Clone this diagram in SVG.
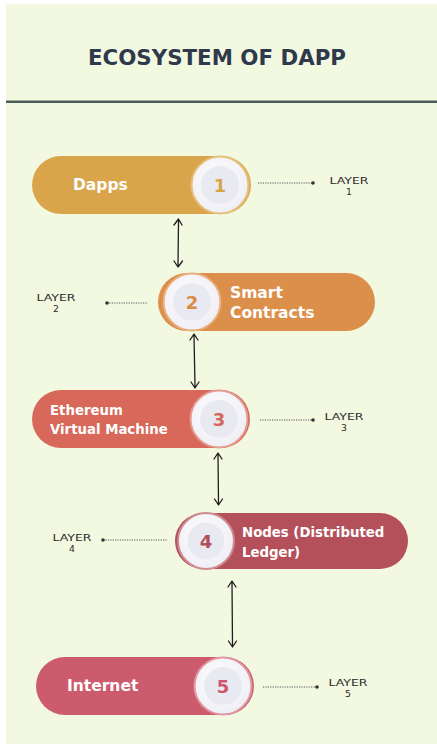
<svg xmlns="http://www.w3.org/2000/svg" width="437" height="744" viewBox="0 0 437 744">
<defs>
<style>
.t{font-family:"DejaVu Sans","Liberation Sans",sans-serif;}
.title{font-size:21px;font-weight:700;fill:#2e3a4b;}
.lbl{font-size:15.5px;font-weight:700;fill:#ffffff;}
.lbs{font-size:13.3px;font-weight:700;fill:#ffffff;}
.num{font-size:18px;font-weight:700;text-anchor:middle;}
.lay{font-size:9.3px;font-weight:400;fill:#2b2b2b;text-anchor:middle;}
.dot{stroke:#555;stroke-width:1;stroke-dasharray:1.2 1.2;fill:none;}
.arr{stroke:#1e1e1e;stroke-width:1.3;fill:none;stroke-linecap:round;stroke-linejoin:round;}
.inner{fill:#e9e9f1;}
</style>
<radialGradient id="cg" cx="0.45" cy="0.4" r="0.6">
<stop offset="0" stop-color="#ffffff"/>
<stop offset="1" stop-color="#eeeef5"/>
</radialGradient>
</defs>
<rect x="0" y="0" width="437" height="744" fill="#ffffff"/>
<rect x="6" y="4" width="431" height="740" fill="#f3f8e1"/>
<text class="t title" x="217" y="65" text-anchor="middle" textLength="258" lengthAdjust="spacingAndGlyphs">ECOSYSTEM OF DAPP</text>
<rect x="6" y="100.5" width="431" height="2.5" fill="#4f5d5a"/>

<g id="connectors">
<path class="arr" d="M178.5,221 L178,265 M174,225 L178.5,219 L182,225 M174,261 L178,267 L182.5,261"/>
<path class="arr" d="M194,336 L195,386 M190,340 L194,334 L198,340 M191,382 L195,388 L199,382"/>
<path class="arr" d="M218,455 L218.5,503 M214,459 L218,453 L222,459 M214.5,499 L218.5,505 L222.5,499"/>
<path class="arr" d="M232,583 L232.5,645 M228,587 L232,581 L236,587 M228.5,641 L232.5,647 L236.5,641"/>
<line class="dot" x1="258" y1="183" x2="313" y2="183"/><circle cx="313" cy="183" r="1.8" fill="#333"/>
<line class="dot" x1="107" y1="303" x2="148" y2="303"/><circle cx="107" cy="303" r="1.8" fill="#333"/>
<line class="dot" x1="260" y1="420" x2="313" y2="420"/><circle cx="313" cy="420" r="1.8" fill="#333"/>
<line class="dot" x1="103" y1="540" x2="167" y2="540"/><circle cx="103" cy="540" r="1.8" fill="#333"/>
<line class="dot" x1="263" y1="687" x2="317" y2="687"/><circle cx="317" cy="687" r="1.8" fill="#333"/>
</g>

<g id="node1">
<rect x="32" y="156" width="219" height="58" rx="29" fill="#daa54a"/>
<circle cx="220" cy="185" r="28.5" fill="url(#cg)" stroke="#e6c07a" stroke-width="2"/>
<circle class="inner" cx="220" cy="185" r="19"/>
<text class="t num" x="220" y="191.5" fill="#d9a446">1</text>
<text class="t lbl" x="73" y="190">Dapps</text>
<text class="t lay" x="349" y="183.5" textLength="39" lengthAdjust="spacingAndGlyphs">LAYER</text>
<text class="t lay" x="349" y="195">1</text>
</g>

<g id="node2">
<rect x="158" y="273" width="217" height="58" rx="29" fill="#dc8f4b"/>
<circle cx="192" cy="302" r="28.5" fill="url(#cg)" stroke="#e9b07e" stroke-width="2"/>
<circle class="inner" cx="192" cy="302" r="19"/>
<text class="t num" x="192" y="308.5" fill="#db8b45">2</text>
<text class="t lbl" x="230" y="298">Smart</text>
<text class="t lbl" x="230" y="318">Contracts</text>
<text class="t lay" x="56" y="300.5" textLength="39" lengthAdjust="spacingAndGlyphs">LAYER</text>
<text class="t lay" x="56" y="312">2</text>
</g>

<g id="node3">
<rect x="32" y="390" width="218" height="58" rx="29" fill="#d7685a"/>
<circle cx="219" cy="419" r="28.5" fill="url(#cg)" stroke="#e59a8f" stroke-width="2"/>
<circle class="inner" cx="219" cy="419" r="19"/>
<text class="t num" x="219" y="425.5" fill="#d6665a">3</text>
<text class="t lbs" x="50" y="415">Ethereum</text>
<text class="t lbs" x="50" y="434">Virtual Machine</text>
<text class="t lay" x="344" y="419.5" textLength="39" lengthAdjust="spacingAndGlyphs">LAYER</text>
<text class="t lay" x="344" y="431">3</text>
</g>

<g id="node4">
<rect x="175" y="513" width="233" height="56" rx="28" fill="#b4505a"/>
<circle cx="206" cy="541" r="28" fill="url(#cg)" stroke="#cf8a90" stroke-width="2"/>
<circle class="inner" cx="206" cy="541" r="18.5"/>
<text class="t num" x="206" y="547.5" fill="#b24e58">4</text>
<text class="t lbs" x="242" y="537">Nodes (Distributed</text>
<text class="t lbs" x="242" y="557">Ledger)</text>
<text class="t lay" x="72" y="540.5" textLength="39" lengthAdjust="spacingAndGlyphs">LAYER</text>
<text class="t lay" x="72" y="552">4</text>
</g>

<g id="node5">
<rect x="36" y="657" width="218" height="58" rx="29" fill="#cd5b6e"/>
<circle cx="223" cy="686" r="28.5" fill="url(#cg)" stroke="#e196a2" stroke-width="2"/>
<circle class="inner" cx="223" cy="686" r="19"/>
<text class="t num" x="223" y="692.5" fill="#cc566b">5</text>
<text class="t lbl" x="67" y="691">Internet</text>
<text class="t lay" x="348" y="685.5" textLength="39" lengthAdjust="spacingAndGlyphs">LAYER</text>
<text class="t lay" x="348" y="697">5</text>
</g>
</svg>
